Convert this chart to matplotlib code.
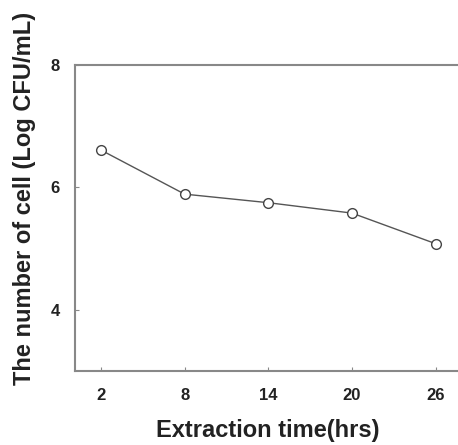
import matplotlib
matplotlib.use("Agg")
import matplotlib.pyplot as plt

hours = [2, 8, 14, 20, 26]
cells = [6.61, 5.89, 5.75, 5.58, 5.08]
xtick_labels = ["2", "8", "14", "20", "26"]
yticks = [4, 6, 8]

plt.rcParams['font.family'] = ['Liberation Sans', 'DejaVu Sans']

W, H = 458, 445
fig = plt.figure(figsize=(W/100, H/100), dpi=100)
ax = fig.add_axes([75/W, 1-371/H, 1-75/W, (371-65)/H])

ax.plot(hours, cells, color='#555555', lw=1.0, marker='o', ms=7,
        mfc='white', mec='#444444', mew=1.0)

ax.set_xlim(0.14, 27.6)
ax.set_ylim(3, 8)
ax.set_xticks(hours)
ax.set_xticklabels(xtick_labels, fontsize=12, fontweight='bold', color='#222222')
ax.set_yticks(yticks)
ax.set_yticklabels([str(v) for v in yticks], fontsize=12, fontweight='bold', color='#222222')
ax.tick_params(direction='in', length=3, width=0.8, color='#888888')
ax.tick_params(axis='y', pad=11)
ax.tick_params(axis='x', pad=12)

for s in ['left', 'top', 'bottom']:
    ax.spines[s].set_color('#888888')
    ax.spines[s].set_linewidth(1.5)
ax.spines['right'].set_visible(False)

fig.text(268/W, 1-430/H, 'Extraction time(hrs)', fontsize=17, fontweight='bold',
         color='#222222', ha='center', va='center')
fig.text(25/W, 1-385/H, 'The number of cell (Log CFU/mL)', fontsize=17, fontweight='bold',
         color='#222222', ha='center', va='bottom', rotation=90)

fig.savefig('out.png', dpi=100)
